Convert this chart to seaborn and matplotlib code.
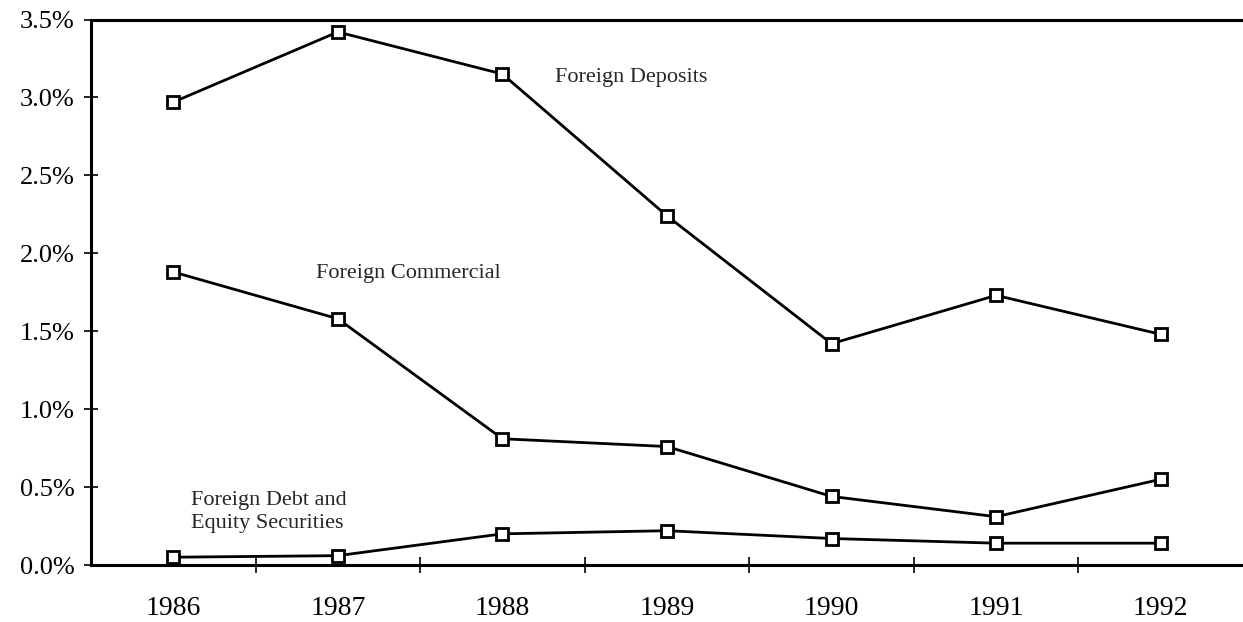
import matplotlib
matplotlib.use("Agg")
import matplotlib.pyplot as plt
import seaborn as sns
import pandas as pd
from matplotlib.ticker import FuncFormatter, FixedLocator

years = ["1986", "1987", "1988", "1989", "1990", "1991", "1992"]
deposits = [2.97, 3.42, 3.15, 2.24, 1.42, 1.73, 1.48]
commercial = [1.88, 1.58, 0.81, 0.76, 0.44, 0.31, 0.55]
securities = [0.05, 0.06, 0.20, 0.22, 0.17, 0.14, 0.14]
series_names = ["Foreign Deposits", "Foreign Commercial",
                "Foreign Debt and\nEquity Securities"]
yticks = [0.0, 0.5, 1.0, 1.5, 2.0, 2.5, 3.0, 3.5]

sns.set_theme(style="white")
plt.rcParams["font.family"] = ["Liberation Serif", "DejaVu Serif"]

df = pd.DataFrame({
    "year": years * 3,
    "value": deposits + commercial + securities,
    "series": [series_names[0]] * 7 + [series_names[1]] * 7 + [series_names[2]] * 7,
})

fig = plt.figure(figsize=(12.43, 6.22), dpi=100)
ax = fig.add_axes([91 / 1243, 1 - 565 / 622, 1 - 91 / 1243, (565 - 19.5) / 622])

sns.lineplot(data=df, x="year", y="value", hue="series", sort=False,
             palette=["black", "black", "black"], marker="s", markersize=8.5,
             markerfacecolor="white", markeredgecolor="black", markeredgewidth=2.0,
             linewidth=2.0, legend=False, ax=ax)

ax.set_xlim(-0.5, 6.5)
ax.set_ylim(0, 3.5)
ax.set_xlabel("")
ax.set_ylabel("")

ax.yaxis.set_major_locator(FixedLocator(yticks))
ax.yaxis.set_major_formatter(FuncFormatter(lambda v, p: f"{v:.1f}%"))
ax.set_xticks(range(len(years)))
ax.set_xticklabels(years)
ax.set_xticks([i + 0.5 for i in range(len(years) - 1)], minor=True)

ax.tick_params(axis="y", which="major", direction="inout", length=10, width=1.2,
               color="black", labelsize=19, pad=7, left=True, labelcolor="black")
ax.tick_params(axis="x", which="major", length=0, labelsize=20, pad=22,
               labelcolor="black")
ax.tick_params(axis="x", which="minor", direction="inout", length=12, width=1.2,
               color="black", bottom=True)

for side in ["left", "bottom", "top"]:
    ax.spines[side].set_visible(True)
    ax.spines[side].set_color("black")
    ax.spines[side].set_linewidth(2.2)
ax.spines["right"].set_visible(False)
ax.grid(False)

ax.text(2.32, 3.13, series_names[0], fontsize=16, ha="left", va="center")
ax.text(0.87, 1.87, series_names[1], fontsize=16, ha="left", va="center")
ax.text(0.11, 0.34, series_names[2], fontsize=16, ha="left", va="center",
        linespacing=1.3)

fig.savefig("out.png", dpi=100)
